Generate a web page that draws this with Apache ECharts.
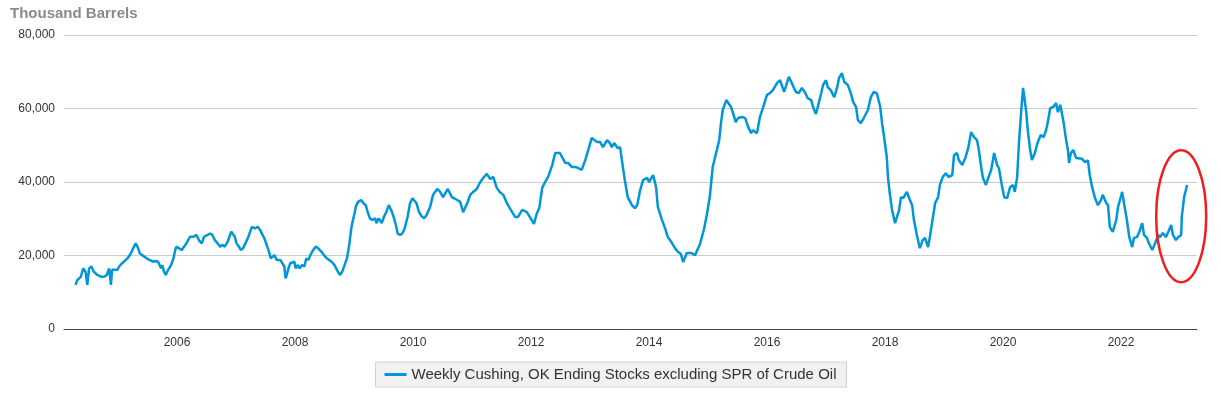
<!DOCTYPE html>
<html>
<head>
<meta charset="utf-8">
<script src="https://cdn.jsdelivr.net/npm/echarts@6/dist/echarts.min.js"></script>
<style>
  html, body { margin: 0; padding: 0; background: #ffffff; }
  #chart { width: 1221px; height: 394px; }
</style>
</head>
<body>
<div id="chart"></div>
<script>
// Week positions in decimal years
const weeks = [
  2004.28,2004.31,2004.37,2004.41,2004.45,2004.48,2004.51,2004.55,2004.59,2004.62,2004.65,2004.68,2004.72,2004.76,2004.81,2004.85,2004.88,2004.90,2004.93,2004.99,
  2005.02,2005.07,2005.10,2005.16,2005.22,2005.27,2005.30,2005.33,2005.37,2005.41,2005.44,2005.49,2005.53,2005.56,2005.60,2005.64,2005.68,2005.73,2005.75,2005.78,2005.81,2005.85,2005.90,2005.94,2005.97,2005.99,
  2006.03,2006.08,2006.12,2006.16,2006.22,2006.28,2006.33,2006.37,2006.42,2006.46,2006.52,2006.56,2006.60,2006.64,2006.69,2006.73,2006.77,2006.81,2006.86,2006.92,2006.95,2006.98,
  2007.01,2007.05,2007.08,2007.12,2007.16,2007.21,2007.27,2007.29,2007.32,2007.37,2007.41,2007.45,2007.48,2007.52,2007.56,2007.59,2007.62,2007.65,2007.67,2007.69,2007.72,2007.75,2007.78,2007.82,2007.84,2007.86,2007.89,2007.92,2007.95,2007.99,
  2008.01,2008.05,2008.08,2008.12,2008.16,2008.19,2008.23,2008.26,2008.31,2008.35,2008.39,2008.42,2008.45,2008.49,2008.54,2008.58,2008.62,2008.67,2008.71,2008.76,2008.80,2008.84,2008.88,2008.92,2008.95,2008.97,
  2009.01,2009.03,2009.07,2009.12,2009.16,2009.20,2009.23,2009.27,2009.31,2009.36,2009.38,2009.42,2009.47,2009.51,2009.55,2009.59,2009.63,2009.67,2009.71,2009.74,2009.78,2009.82,2009.86,2009.91,2009.95,2009.99,
  2010.02,2010.06,2010.10,2010.15,2010.19,2010.23,2010.29,2010.34,2010.41,2010.46,2010.51,2010.59,2010.66,2010.75,2010.80,2010.85,2010.92,2010.97,
  2011.02,2011.08,2011.14,2011.19,2011.25,2011.31,2011.36,2011.42,2011.47,2011.53,2011.59,2011.64,2011.73,2011.78,2011.85,2011.93,2011.98,
  2012.05,2012.10,2012.14,2012.19,2012.24,2012.29,2012.36,2012.41,2012.49,2012.58,2012.63,2012.69,2012.75,2012.80,2012.86,2012.92,2012.97,
  2013.03,2013.12,2013.17,2013.22,2013.29,2013.34,2013.37,2013.41,2013.47,2013.51,2013.54,2013.59,2013.64,2013.71,2013.76,2013.80,2013.85,2013.90,2013.97,
  2014.00,2014.07,2014.12,2014.15,2014.22,2014.27,2014.32,2014.39,2014.44,2014.49,2014.54,2014.58,2014.64,2014.71,2014.78,2014.86,2014.93,2014.98,
  2015.03,2015.08,2015.15,2015.19,2015.22,2015.25,2015.31,2015.34,2015.39,2015.42,2015.47,2015.51,2015.58,2015.63,2015.68,2015.73,2015.76,2015.83,2015.88,2015.93,
  2016.00,2016.05,2016.10,2016.17,2016.22,2016.25,2016.29,2016.32,2016.37,2016.42,2016.49,2016.54,2016.59,2016.64,2016.69,2016.75,2016.78,2016.83,2016.86,2016.92,2016.95,
  2017.00,2017.03,2017.08,2017.14,2017.19,2017.22,2017.27,2017.31,2017.37,2017.42,2017.46,2017.51,2017.54,2017.59,2017.64,2017.71,2017.76,2017.81,2017.86,2017.92,2017.95,2017.98,
  2018.03,2018.05,2018.08,2018.12,2018.17,2018.20,2018.24,2018.27,2018.31,2018.37,2018.41,2018.46,2018.49,2018.54,2018.59,2018.64,2018.68,2018.73,2018.76,2018.80,2018.85,2018.90,2018.93,2018.98,
  2019.03,2019.08,2019.14,2019.17,2019.22,2019.25,2019.31,2019.36,2019.41,2019.46,2019.51,2019.56,2019.59,2019.63,2019.66,2019.71,2019.75,2019.80,2019.85,2019.90,2019.93,2019.98,
  2020.02,2020.07,2020.12,2020.17,2020.20,2020.24,2020.27,2020.31,2020.34,2020.39,2020.42,2020.46,2020.49,2020.54,2020.59,2020.64,2020.69,2020.73,2020.76,2020.80,2020.85,2020.90,2020.93,2020.97,
  2021.02,2021.07,2021.10,2021.12,2021.15,2021.19,2021.24,2021.27,2021.34,2021.39,2021.44,2021.47,2021.51,2021.56,2021.61,2021.66,2021.69,2021.75,2021.78,2021.81,2021.86,2021.92,2021.95,
  2022.02,2022.05,2022.10,2022.14,2022.19,2022.22,2022.27,2022.31,2022.36,2022.39,2022.44,2022.47,2022.53,2022.58,2022.63,2022.66,2022.71,2022.76,2022.80,2022.85,2022.88,2022.93,2022.97,
  2023.02,2023.03,2023.07,2023.12
];

// Cushing, OK ending stocks excluding SPR (thousand barrels)
const stocks = [
  12000,13300,14200,16500,15600,12000,16500,17000,15600,15200,14700,15200,14200,14200,14700,16500,12000,16100,16500,16100,
  17000,17900,18300,19200,20600,22400,23300,22400,20600,20100,20600,19200,18800,19200,18300,18500,18300,16500,17400,15600,14700,16100,17400,19200,21500,22400,
  22000,21500,22400,23300,25100,25100,25600,24200,23300,25100,25600,26000,25600,24200,23300,22400,22900,22400,23800,26500,26500,25100,
  23300,22400,21500,22000,23300,25100,27800,28300,27400,27800,26900,25600,24700,22900,21000,19200,18800,20100,20600,18800,18300,18800,18800,17000,13800,14700,16500,17900,17400,18300,
  16500,17400,16500,17400,17000,19200,18800,20100,21500,22400,22000,21500,21000,20100,19200,18800,18300,17400,16100,14700,15600,17400,19200,22900,26900,28800,
  31500,33300,34600,35100,34200,33700,31900,30100,29700,30100,28800,30100,28800,30600,31900,33700,32400,30600,28300,26000,25600,26000,27400,30600,34200,35600,
  36000,34200,31900,30600,30100,31000,33200,36500,38100,37300,35900,38100,35900,35100,34600,31800,34300,36500,
  37300,38100,40000,41100,42200,40800,41400,38400,37300,36500,34300,32900,30500,30500,32400,31800,30500,
  28600,31500,32900,38400,40000,41400,44600,47900,47900,45200,45200,44100,44100,43800,43300,46000,48700,
  52000,50900,50900,49500,51400,50500,49500,50600,49200,49500,46000,40500,35900,33700,32900,33700,37800,40500,41100,
  40000,41900,38600,33200,29700,27500,25000,23400,22000,21000,20400,18200,20700,20700,20100,22900,27000,31000,
  35900,44100,48700,51400,56000,59600,62300,61800,60400,59000,56300,57400,57700,57400,55000,53300,54100,53300,57700,60100,
  63700,64200,65000,66900,67700,66400,64500,66000,68600,66900,64500,64200,65600,64500,62800,62300,60400,58500,59000,64200,66400,
  67700,65800,65000,63100,65800,68300,69600,67200,66400,64200,61800,60400,56900,56000,57400,59600,63100,64500,64200,60400,56000,52800,
  46800,41400,37000,32400,28800,29000,32400,35900,35600,37300,35600,33700,29700,25600,22000,24200,24800,22300,25000,29100,34300,35900,39200,41400,
  42400,41400,41900,47300,47900,46000,44600,46500,49200,53600,52200,51400,48700,44100,41100,39200,41100,43300,47900,44600,43800,39200,
  35900,35600,38600,39200,37300,41400,50600,59600,65600,59600,54100,48700,46000,47900,50900,52800,52200,54100,56300,60100,60400,61500,59000,61000,
  56900,51400,48700,45200,47900,48700,46500,46800,46300,45400,45900,41900,38600,35600,33700,35100,36500,34300,33700,27800,26400,29700,33200,
  37300,34300,29700,25000,22300,24800,25000,26400,28800,25600,24800,23400,21500,23400,25600,25000,26100,25000,26400,28300,25600,24200,25000,
  25600,30500,35900,39200
];

const yearTicks = [2006, 2008, 2010, 2012, 2014, 2016, 2018, 2020, 2022];
const seriesName = 'Weekly Cushing, OK Ending Stocks excluding SPR of Crude Oil';
const axisTitle = 'Thousand Barrels';
// highlighted region (red ellipse) centre in data units
const highlightCenter = [2023.02, 30700];

const chart = echarts.init(document.getElementById('chart'), null, { renderer: 'canvas' });
const font = '"Liberation Sans", Arial, sans-serif';

chart.setOption({
  animation: false,
  textStyle: { fontFamily: font },
  title: {
    text: axisTitle,
    left: 10, top: 6,
    padding: 0,
    textStyle: { fontSize: 15, fontWeight: 'bold', color: '#8a8a8a', fontFamily: font }
  },
  grid: { left: 64, right: 24, top: 35, bottom: 65, containLabel: false },
  legend: {
    data: [seriesName],
    left: 'center',
    top: 362,
    backgroundColor: '#f1f1f1',
    borderColor: '#d2d2d2',
    borderWidth: 1,
    borderRadius: 0,
    padding: [5, 10, 5, 9],
    icon: 'rect',
    itemWidth: 22,
    itemHeight: 3,
    itemGap: 6,
    textStyle: { fontSize: 15, color: '#333333', fontFamily: font }
  },
  xAxis: {
    type: 'value',
    min: 2004.085,
    max: 2023.288,
    axisLine: { show: true, lineStyle: { color: '#444444', width: 1 } },
    axisTick: { show: false },
    splitLine: { show: false },
    axisLabel: {
      customValues: yearTicks,
      color: '#333333',
      fontSize: 12,
      margin: 8,
      formatter: v => String(Math.round(v))
    }
  },
  yAxis: {
    type: 'value',
    min: 0,
    max: 80000,
    interval: 20000,
    axisLine: { show: false },
    axisTick: { show: false },
    splitLine: { show: true, lineStyle: { color: '#cccccc', width: 1 } },
    axisLabel: {
      color: '#333333',
      fontSize: 12,
      margin: 9,
      formatter: v => v.toLocaleString('en-US')
    }
  },
  series: [{
    name: seriesName,
    type: 'line',
    data: weeks.map((w, i) => [w, stocks[i]]),
    showSymbol: false,
    symbol: 'none',
    lineStyle: { color: '#0096d7', width: 2.5 },
    itemStyle: { color: '#0096d7' },
    z: 3
  }]
});

const c = chart.convertToPixel({ xAxisIndex: 0, yAxisIndex: 0 }, highlightCenter);
chart.setOption({
  graphic: [{
    type: 'ellipse',
    z: 100,
    silent: true,
    shape: { cx: c[0], cy: c[1], rx: 25, ry: 66 },
    style: { fill: 'none', stroke: '#f01e1e', lineWidth: 2.5 }
  }]
});
</script>
</body>
</html>
